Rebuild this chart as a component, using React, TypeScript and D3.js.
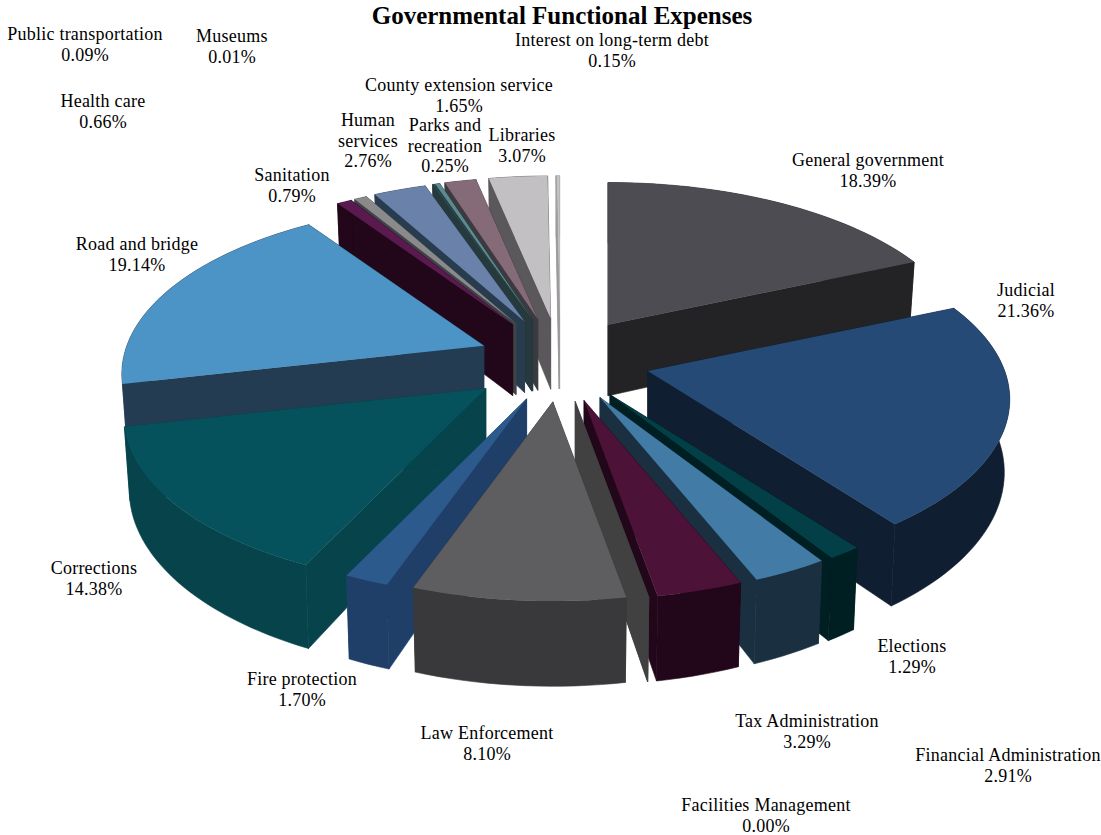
import React from "react";
import * as d3 from "d3";

// Governmental functional expenses, percent of total, clockwise from twelve o'clock
const categories = [
  "General government", "Judicial", "Elections", "Financial Administration",
  "Tax Administration", "Facilities Management", "Law Enforcement", "Fire protection",
  "Corrections", "Road and bridge", "Sanitation", "Health care", "Human services",
  "Public transportation", "Parks and recreation", "County extension service",
  "Libraries", "Museums", "Interest on long-term debt",
];
const shares = [18.39, 21.36, 1.29, 2.91, 3.29, 0.0, 8.1, 1.7, 14.38, 19.14, 0.79, 0.66, 2.76, 0.09, 0.25, 1.65, 3.07, 0.01, 0.15];

const topColors = [
  "#4d4c52", "#254a75", "#023f47", "#417ba6", "#4d1237", "#414141", "#5e5e61", "#2d5a8c",
  "#06525c", "#4c93c6", "#5a1a4f", "#8a8a8a", "#6a82a9", "#2a4a50", "#5c8a8e", "#856a78",
  "#c2c0c2", "#c8c8c8", "#c4c4c4",
];
const wallColors = [
  "#232325", "#101e31", "#001f22", "#1a3040", "#22071a", "#414141", "#39393b", "#1f3f68",
  "#06434b", "#233c52", "#22071a", "#3f4347", "#283c50", "#263a3e", "#263a3e", "#3a3a40",
  "#5a585a", "#9a9a9a", "#a0a0a0",
];

// How far each slice is pulled out of the pie, relative to the common explosion
const explosion = [1, 1.03, 1, 1, 1, 1, 1, 1, 1.08, 0.93, 1, 1, 1, 1, 1, 1, 1, 1, 1];

// Label centres and the baseline of their first line, one entry per category
const labelAnchors: [number, number][] = [
  [868, 166], [1026, 296], [912, 652], [1008, 761], [807, 727], [766, 811], [487, 739], [302, 685],
  [94, 574], [137, 250], [292, 181], [103, 107], [368, 126], [85, 40], [445, 131], [459, 91],
  [522, 141], [232, 42], [612, 46],
];
const labelNames = categories.map((c) =>
  c === "Human services" ? ["Human", "services"] : c === "Parks and recreation" ? ["Parks and", "recreation"] : [c]
);

const WIDTH = 1101;
const HEIGHT = 835;
const CENTER = { x: 560, y: 360 };
const VIEW_DISTANCE = 6;
const WALL = 71;
const WALL_TAPER = 0.985;

const spreadX = d3.scaleLinear().domain([-1, 1]).range([-88, 88]);
const spreadY = d3.scaleLinear().domain([-1, 1]).range([-42, 42]);
const radiusX = d3.scaleLinear().domain([-1, 1]).range([-357, 357]);
const radiusY = d3.scaleLinear().domain([-1, 1]).range([-166, 166]);

const pieLayout = d3.pie<number>().sort(null).startAngle(0).endAngle(2 * Math.PI);
const outline = d3.line<[number, number]>();

// Perspective projection of a point on the disc, relative to the slice apex
function project(angle: number) {
  const depth = -Math.cos(angle);
  const s = VIEW_DISTANCE / (VIEW_DISTANCE - depth);
  return { x: radiusX(Math.sin(angle) * s), y: radiusY(depth * s), wall: WALL * s };
}

export default function App() {
  const arcs = pieLayout(shares).map((a, i) => {
    const mid = (a.startAngle + a.endAngle) / 2;
    return { i, a0: a.startAngle, a1: a.endAngle, mid };
  });
  const ordered = [...arcs].sort((p, q) => Math.cos(q.mid) - Math.cos(p.mid));

  return (
    <svg
      width={WIDTH}
      height={HEIGHT}
      viewBox={`0 0 ${WIDTH} ${HEIGHT}`}
      style={{ position: "absolute", left: 0, top: 0, background: "#fff" }}
      fontFamily="'Liberation Serif', serif"
    >
      {ordered.map(({ i, a0, a1, mid }) => {
        const ax = CENTER.x + spreadX(Math.sin(mid) * explosion[i]);
        const ay = CENTER.y + spreadY(-Math.cos(mid) * explosion[i]);
        const steps = Math.max(1, Math.ceil((a1 - a0) / 0.03));
        const rim = d3.range(steps + 1).map((k) => project(a0 + ((a1 - a0) * k) / steps));
        const topRim: [number, number][] = rim.map((p) => [ax + p.x, ay + p.y]);
        const lowRim: [number, number][] = rim.map((p) => [ax + p.x * WALL_TAPER, ay + p.y + p.wall]);
        const apexLow: [number, number] = [ax, ay + WALL];
        const apexTop: [number, number] = [ax, ay];
        const first = topRim[0];
        const last = topRim[topRim.length - 1];
        const firstLow = lowRim[0];
        const lastLow = lowRim[lowRim.length - 1];
        const wallFill = wallColors[i];
        return (
          <g key={categories[i]}>
            <g fill={wallFill} stroke={wallFill} strokeWidth={0.6} strokeLinejoin="round">
              <path d={outline([apexTop, first, firstLow, apexLow])! + "Z"} />
              <path d={outline([apexTop, last, lastLow, apexLow])! + "Z"} />
              <path d={outline([...topRim, ...[...lowRim].reverse()])! + "Z"} />
            </g>
            <path d={outline([apexTop, ...topRim])! + "Z"} fill={topColors[i]} />
          </g>
        );
      })}

      <text x={562} y={24} textAnchor="middle" fontSize={25} fontWeight="bold" fill="#000">
        Governmental Functional Expenses
      </text>

      {categories.map((c, i) => {
        const [lx, ly] = labelAnchors[i];
        const lines = [...labelNames[i], `${d3.format(".2f")(shares[i])}%`];
        return (
          <text key={c} x={lx} y={ly} textAnchor="middle" fontSize={18} letterSpacing={0.25} fill="#000">
            {lines.map((line, k) => (
              <tspan key={k} x={lx} dy={k === 0 ? 0 : 20.5}>
                {line}
              </tspan>
            ))}
          </text>
        );
      })}
    </svg>
  );
}
